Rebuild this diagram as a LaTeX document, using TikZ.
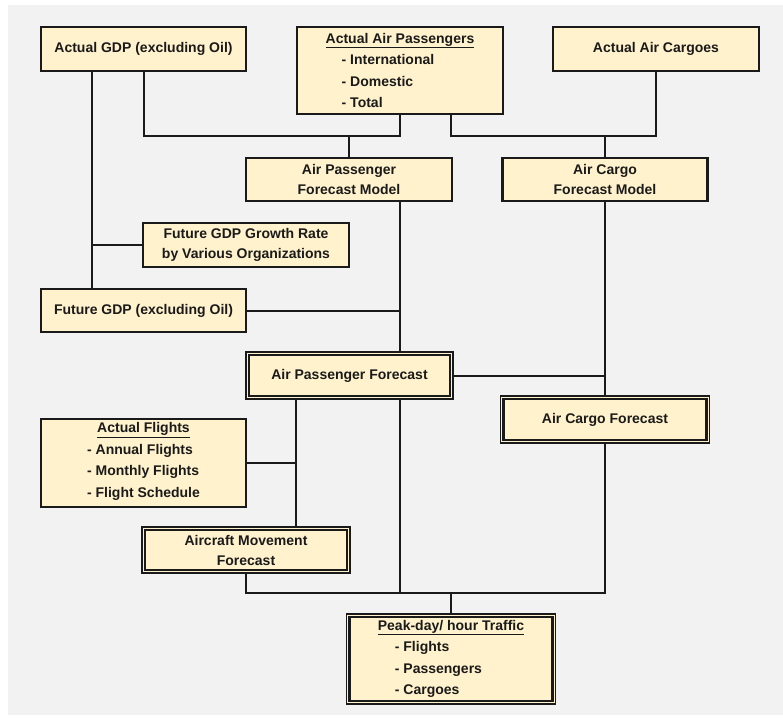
\documentclass[tikz,border=0pt]{standalone}
\usepackage{fontspec}
\setmainfont{Liberation Sans}
\definecolor{cream}{HTML}{FFF2CC}
\definecolor{bggray}{HTML}{F2F2F2}
\definecolor{ink}{HTML}{1A1A1A}
\begin{document}
\begin{tikzpicture}[x=1pt,y=-1pt,
  box/.style={draw=ink, line width=2.2pt, fill=cream, inner sep=0pt,
    font=\fontsize{14}{21.5}\selectfont\bfseries, align=center, text=ink},
  twoline/.style={font=\fontsize{14}{20}\selectfont\bfseries},
  dbox/.style={box, line width=1.2pt},
  inner/.style={draw=ink, line width=2.7pt},
  conn/.style={draw=ink, line width=2pt}]
\useasboundingbox (0,0) rectangle (783,721);
\fill[bggray] (8,5) rectangle (783,715);

% input boxes
\node[box, minimum width=205pt, minimum height=44pt] (gdp) at (143.5,49) {Actual GDP (excluding Oil)};
\node[box, align=left, minimum width=206pt, minimum height=87pt] (aap) at (400,70.5)
  {\underline{Actual Air Passengers}\\\hspace*{16pt}- International\\\hspace*{16pt}- Domestic\\\hspace*{16pt}- Total};
\node[box, minimum width=206pt, minimum height=44pt] (aac) at (656,49) {Actual Air Cargoes};

% models
\node[box, twoline, minimum width=206pt, minimum height=43pt] (apfm) at (349,179.5) {Air Passenger\\Forecast Model};
\node[box, twoline, minimum width=205pt, minimum height=43pt] (acfm) at (605,179.5) {Air Cargo\\Forecast Model};

% GDP
\node[box, twoline, minimum width=206pt, minimum height=44pt] (fgr) at (246,245) {Future GDP Growth Rate\\by Various Organizations};
\node[box, minimum width=205pt, minimum height=43pt] (fgdp) at (143.5,310.5) {Future GDP (excluding Oil)};

% forecasts
\node[dbox, minimum width=207pt, minimum height=47pt] (apf) at (349.5,375.5) {Air Passenger Forecast};
\node[dbox, minimum width=209pt, minimum height=47pt] (acf) at (605,419.5) {Air Cargo Forecast};
\node[box, minimum width=205pt, minimum height=88pt] (af) at (143.5,463)
  {\underline{Actual Flights}\\\begin{tabular}[t]{@{}l@{}}- Annual Flights\\- Monthly Flights\\- Flight Schedule\end{tabular}};
\node[dbox, twoline, minimum width=208pt, minimum height=46pt] (amf) at (246,550) {Aircraft Movement\\Forecast};
\node[dbox, align=left, minimum width=209pt, minimum height=90pt] (peak) at (451,659)
  {\underline{Peak-day/ hour Traffic}\\\hspace*{17pt}- Flights\\\hspace*{17pt}- Passengers\\\hspace*{17pt}- Cargoes};

\foreach \n in {apf,acf,amf,peak}
  \draw[inner] ([shift={(3.5,3.5)}]\n.north west) rectangle ([shift={(-3.5,-3.5)}]\n.south east);

% junction coordinates
\coordinate (jA) at (349,136);
\coordinate (jB) at (605,136);
\coordinate (jC) at (451,593);
\coordinate (gl) at ([xshift=-51.5pt]fgdp.north);
\coordinate (pt) at ([xshift=51pt]apfm.south);
\coordinate (mt) at ([xshift=50pt]amf.north);

% connectors
\draw[conn] (gdp.south) |- (jA) -| (aap.south);
\draw[conn] (jA) -- (apfm.north);
\draw[conn] ([xshift=51pt]aap.south) |- (jB) -| (aac.south);
\draw[conn] (jB) -- (acfm.north);
\draw[conn] ([xshift=-51.5pt]gdp.south) -- (gl);
\draw[conn] (fgr.west) -- (fgr.west -| gl);
\draw[conn] (pt) -- (pt |- apf.north);
\draw[conn] (fgdp.east) -- (fgdp.east -| pt);
\draw[conn] (apf.east) -- (apf.east -| acfm.south);
\draw[conn] (acfm.south) -- (acf.north);
\draw[conn] (mt |- apf.south) -- (mt);
\draw[conn] (af.east) -- (af.east -| mt);
\draw[conn] (pt |- apf.south) -- (pt |- jC);
\draw[conn] (amf.south) |- (acf.south |- jC) -- (acf.south);
\draw[conn] (jC) -- (peak.north);
\end{tikzpicture}
\end{document}
